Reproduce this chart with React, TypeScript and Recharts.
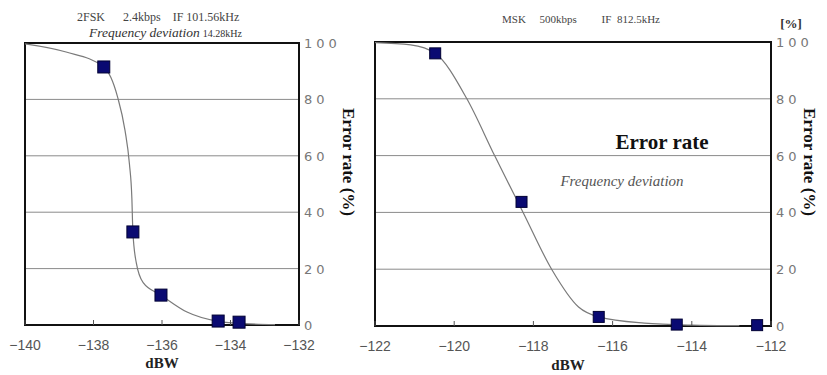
import React from 'react'
import {
  ComposedChart,
  Line,
  Scatter,
  XAxis,
  YAxis,
  CartesianGrid,
  ReferenceArea,
} from 'recharts'

// 2FSK 2.4kbps — fitted curve and measured points
const fskCurveX = [-140, -138.8, -137.7, -137.3, -137.08, -136.95, -136.88, -136.85, -136.75, -136.55, -136.03, -135.27, -134.4, -133.6, -132.7]
const fskCurveY = [99.7, 96.8, 91.5, 81, 69, 57, 45, 33, 22, 15, 10.6, 4.6, 1.4, 0.5, 0.1]
const fskPointX = [-137.7, -136.85, -136.03, -134.36, -133.75]
const fskPointY = [91.5, 33, 10.6, 1.4, 1]

// MSK 500kbps
const mskCurveX = [-122, -121.1, -120.48, -119.68, -118.98, -118.26, -117.54, -116.86, -116.35, -115.2, -114, -112.8]
const mskCurveY = [99.8, 99, 96, 80, 60, 40, 20, 6.7, 3.2, 1, 0.3, 0.1]
const mskPointX = [-120.48, -118.3, -116.35, -114.38, -112.35]
const mskPointY = [96, 43.7, 3.2, 0.5, 0.3]

const fskTicks = [-140, -138, -136, -134, -132]
const mskTicks = [-122, -120, -118, -116, -114, -112]
const yTicks = [0, 20, 40, 60, 80, 100]

const SERIF = "'Liberation Serif', 'Times New Roman', serif"

const zip = (xs: number[], ys: number[]) => xs.map((x, i) => ({ x, y: ys[i] }))

const XTick = (props: any) => {
  const { x, y, payload } = props
  const label = String(payload.value).replace('-', '\u2212')
  return (
    <g>
      <line x1={x} y1={y} x2={x} y2={y - 5} stroke="#555" strokeWidth={1} />
      <text x={x} y={y + 25} textAnchor="middle" fontFamily="'Liberation Sans', Arial, sans-serif" fontSize={14} fill="#555">
        {label}
      </text>
    </g>
  )
}

const YTick = (props: any) => {
  const { x, y, payload } = props
  return (
    <text x={x + 5} y={y + 5} textAnchor="start" fontFamily="'DejaVu Sans', sans-serif" fontSize={13} letterSpacing={4} fill="#777">
      {String(payload.value)}
    </text>
  )
}

const Square = (size: number) => (props: any) => {
  const { cx, cy } = props
  return <rect x={cx - size / 2} y={cy - size / 2} width={size} height={size} fill="#0a0a72" stroke="#000033" strokeWidth={1} />
}

function Panel({
  curve,
  points,
  ticks,
  domain,
  width,
  margin,
  size,
}: {
  curve: { x: number; y: number }[]
  points: { x: number; y: number }[]
  ticks: number[]
  domain: [number, number]
  width: number
  margin: { top: number; left: number; right: number; bottom: number }
  size: number
}) {
  return (
    <ComposedChart width={width} height={375} margin={margin}>
      <CartesianGrid vertical={false} stroke="#8a8a8a" strokeWidth={1} />
      <XAxis
        dataKey="x"
        type="number"
        domain={domain}
        ticks={ticks}
        allowDataOverflow
        height={30}
        axisLine={false}
        tickLine={false}
        tickSize={0}
        tickMargin={0}
        tick={<XTick />}
        interval={0}
      />
      <YAxis
        dataKey="y"
        type="number"
        orientation="right"
        domain={[0, 100]}
        ticks={yTicks}
        width={40}
        axisLine={false}
        tickLine={false}
        tickSize={0}
        tickMargin={0}
        tick={<YTick />}
        interval={0}
      />
      <ReferenceArea x1={domain[0]} x2={domain[1]} y1={0} y2={100} fill="none" stroke="#111" strokeWidth={2} ifOverflow="visible" />
      <Line data={curve} dataKey="y" type="monotone" stroke="#7a7a7a" strokeWidth={1.2} dot={false} activeDot={false} isAnimationActive={false} />
      <Scatter data={points} dataKey="y" shape={Square(size)} isAnimationActive={false} />
    </ComposedChart>
  )
}

export default function App() {
  return (
    <div style={{ position: 'absolute', left: 0, top: 0, width: 827, height: 375, background: '#fff', overflow: 'hidden' }}>
      <div style={{ position: 'absolute', left: 0, top: 0 }}>
        <Panel
          curve={zip(fskCurveX, fskCurveY)}
          points={zip(fskPointX, fskPointY)}
          ticks={fskTicks}
          domain={[-140, -132]}
          width={410}
          margin={{ top: 43, left: 25, right: 71, bottom: 20 }}
          size={12}
        />
      </div>
      <div style={{ position: 'absolute', left: 350, top: 0 }}>
        <Panel
          curve={zip(mskCurveX, mskCurveY)}
          points={zip(mskPointX, mskPointY)}
          ticks={mskTicks}
          domain={[-122, -112]}
          width={477}
          margin={{ top: 42, left: 25, right: 16, bottom: 19 }}
          size={11}
        />
      </div>
      <svg width={827} height={375} style={{ position: 'absolute', left: 0, top: 0, pointerEvents: 'none' }}>
        <text x={77} y={21} fontFamily={SERIF} fontSize={12} fill="#444" xmlSpace="preserve">
          {'2FSK      2.4kbps    IF 101.56kHz'}
        </text>
        <text x={89} y={37} fontFamily={SERIF} fontSize={13.5} fontStyle="italic" fill="#333">
          Frequency deviation
          <tspan fontStyle="normal" fontSize={10} dx={3}>14.28kHz</tspan>
        </text>
        <text x={502} y={23} fontFamily={SERIF} fontSize={11} fill="#444" xmlSpace="preserve">
          {'MSK     500kbps         IF  812.5kHz'}
        </text>
        <text x={791} y={28} textAnchor="middle" fontFamily={SERIF} fontSize={13} fontWeight="bold" fill="#333">
          [%]
        </text>
        <text x={347} y={162} transform="rotate(90 347 162)" textAnchor="middle" dominantBaseline="middle" fontFamily={SERIF} fontSize={17} fontWeight="bold" fill="#111">
          Error rate (%)
        </text>
        <text x={808} y={162} transform="rotate(90 808 162)" textAnchor="middle" dominantBaseline="middle" fontFamily={SERIF} fontSize={17} fontWeight="bold" fill="#111">
          Error rate (%)
        </text>
        <text x={662} y={149} textAnchor="middle" fontFamily={SERIF} fontSize={21} fontWeight="bold" fill="#111">
          Error rate
        </text>
        <text x={622} y={186} textAnchor="middle" fontFamily={SERIF} fontSize={15} fontStyle="italic" fill="#555">
          Frequency deviation
        </text>
        <text x={162} y={368} textAnchor="middle" fontFamily={SERIF} fontSize={15} fontWeight="bold" fill="#222">
          dBW
        </text>
        <text x={568} y={370} textAnchor="middle" fontFamily={SERIF} fontSize={15} fontWeight="bold" fill="#222">
          dBW
        </text>
      </svg>
    </div>
  )
}
